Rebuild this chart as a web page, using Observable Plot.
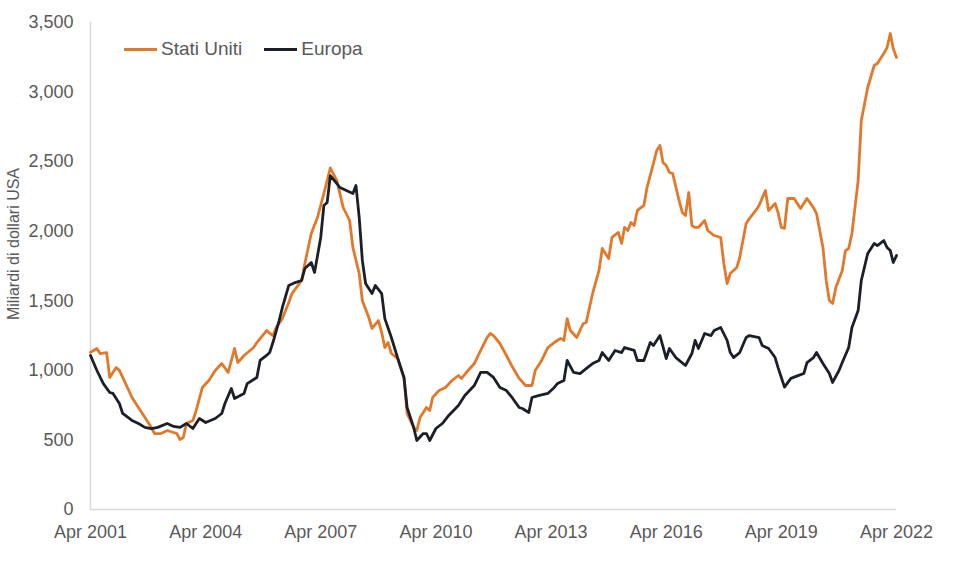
<!DOCTYPE html>
<html>
<head>
<meta charset="utf-8">
<script src="https://cdn.jsdelivr.net/npm/d3@7"></script>
<script src="https://cdn.jsdelivr.net/npm/@observablehq/plot@0.6"></script>
<style>
  html, body { margin: 0; padding: 0; background: #fff; }
  #wrap { position: relative; width: 964px; height: 571px; font-family: "Liberation Sans", Arial, sans-serif; }
  .legend { position: absolute; top: 38px; left: 124px; display: flex; align-items: center; font-size: 19px; color: #595959; }
  .legend .sw { display: inline-block; width: 33px; height: 3px; margin-right: 4px; }
  .legend .item { display: flex; align-items: center; margin-right: 22px; }
</style>
</head>
<body>
<div id="wrap"></div>
<script>
// Stati Uniti (orange), values in billions USD
const usDates = ["2001-04","2001-06","2001-07","2001-09","2001-10","2001-12","2002-01","2002-03","2002-05","2002-07","2002-09","2002-11","2002-12","2003-02","2003-04","2003-07","2003-08","2003-09","2003-10","2003-12","2004-01","2004-03","2004-05","2004-07","2004-09","2004-11","2005-01","2005-02","2005-04","2005-07","2005-08","2005-11","2006-01","2006-02","2006-04","2006-06","2006-07","2006-10","2006-11","2007-01","2007-03","2007-05","2007-07","2007-09","2007-11","2008-01","2008-02","2008-04","2008-05","2008-07","2008-08","2008-10","2008-11","2008-12","2009-01","2009-02","2009-04","2009-06","2009-07","2009-09","2009-10","2009-11","2010-01","2010-02","2010-03","2010-05","2010-07","2010-09","2010-11","2010-12","2011-02","2011-04","2011-06","2011-08","2011-09","2011-10","2011-12","2012-02","2012-04","2012-06","2012-08","2012-10","2012-11","2013-01","2013-03","2013-05","2013-07","2013-08","2013-09","2013-10","2013-12","2014-02","2014-03","2014-05","2014-07","2014-08","2014-10","2014-11","2015-01","2015-02","2015-03","2015-04","2015-05","2015-06","2015-07","2015-09","2015-10","2015-12","2016-01","2016-02","2016-03","2016-04","2016-05","2016-06","2016-08","2016-09","2016-10","2016-11","2016-12","2017-01","2017-02","2017-04","2017-05","2017-07","2017-09","2017-10","2017-11","2017-12","2018-02","2018-03","2018-05","2018-06","2018-08","2018-09","2018-11","2018-12","2019-02","2019-03","2019-04","2019-05","2019-06","2019-08","2019-10","2019-12","2020-02","2020-03","2020-05","2020-06","2020-07","2020-08","2020-09","2020-11","2020-12","2021-01","2021-02","2021-04","2021-05","2021-07","2021-09","2021-10","2021-12","2022-01","2022-02","2022-03","2022-04"];
const usValues = [1130,1157,1121,1128,949,1020,1000,905,805,733,661,590,546,546,568,546,503,517,618,640,711,877,927,999,1049,985,1157,1056,1107,1164,1200,1286,1250,1308,1372,1488,1552,1646,1768,1984,2099,2271,2455,2364,2170,2077,1883,1696,1502,1380,1301,1358,1272,1164,1200,1121,1085,949,690,590,568,661,733,711,805,855,877,927,963,942,999,1049,1143,1236,1265,1250,1193,1107,1020,942,891,891,999,1071,1164,1200,1230,1215,1372,1286,1236,1337,1344,1552,1718,1876,1804,1955,1991,1912,2027,2005,2063,2041,2149,2185,2314,2487,2580,2616,2494,2472,2422,2415,2221,2134,2113,2278,2041,2027,2027,2077,2005,1969,1955,1768,1624,1696,1739,1811,2055,2091,2149,2185,2293,2149,2199,2134,2027,2020,2235,2235,2163,2235,2170,2127,1883,1646,1502,1481,1596,1718,1861,1876,1984,2364,2796,3033,3191,3205,3277,3320,3421,3313,3249];

// Europa (dark navy), values in billions USD
const euDates = ["2001-04","2001-06","2001-08","2001-10","2001-11","2002-01","2002-02","2002-05","2002-07","2002-09","2002-11","2003-01","2003-04","2003-06","2003-08","2003-10","2003-12","2004-02","2004-04","2004-07","2004-09","2004-10","2004-12","2005-01","2005-04","2005-05","2005-08","2005-09","2005-11","2005-12","2006-01","2006-03","2006-04","2006-06","2006-08","2006-10","2006-11","2007-01","2007-02","2007-04","2007-05","2007-06","2007-07","2007-09","2007-10","2007-12","2008-02","2008-03","2008-04","2008-05","2008-06","2008-08","2008-09","2008-11","2008-12","2009-02","2009-04","2009-06","2009-07","2009-09","2009-10","2009-12","2010-01","2010-02","2010-04","2010-06","2010-08","2010-11","2011-01","2011-04","2011-06","2011-08","2011-10","2011-12","2012-02","2012-04","2012-06","2012-07","2012-09","2012-10","2012-12","2013-03","2013-05","2013-06","2013-08","2013-09","2013-11","2014-01","2014-03","2014-05","2014-07","2014-08","2014-10","2014-12","2015-02","2015-03","2015-06","2015-07","2015-09","2015-11","2015-12","2016-02","2016-04","2016-05","2016-07","2016-10","2016-12","2017-01","2017-02","2017-04","2017-06","2017-07","2017-09","2017-11","2017-12","2018-01","2018-03","2018-05","2018-06","2018-09","2018-10","2018-12","2019-02","2019-03","2019-05","2019-07","2019-09","2019-11","2019-12","2020-02","2020-03","2020-05","2020-07","2020-08","2020-10","2020-11","2021-01","2021-02","2021-04","2021-05","2021-07","2021-09","2021-10","2021-12","2022-01","2022-02","2022-03","2022-04"];
const euValues = [1107,999,905,841,834,762,690,640,618,590,582,590,618,597,590,618,582,654,625,654,690,762,870,798,834,905,949,1071,1107,1128,1200,1358,1452,1610,1631,1646,1732,1775,1703,1955,2185,2206,2400,2343,2314,2293,2271,2329,2099,1790,1624,1552,1610,1552,1372,1236,1092,949,733,590,496,546,546,496,582,618,676,747,819,891,985,985,949,877,855,798,733,726,697,805,819,834,877,905,927,1071,985,977,1013,1049,1071,1128,1071,1143,1128,1164,1143,1071,1071,1200,1179,1250,1085,1157,1092,1035,1121,1215,1157,1265,1250,1286,1308,1215,1128,1092,1128,1236,1250,1236,1179,1157,1092,1020,880,942,960,977,1056,1092,1128,1049,977,913,999,1056,1164,1308,1430,1646,1840,1912,1897,1933,1883,1861,1775,1825];

const seriesNames = ["Stati Uniti", "Europa"];
const seriesColors = ["#E2792A", "#1B1F28"];
const yTicks = [0, 500, 1000, 1500, 2000, 2500, 3000, 3500];
const xTickLabels = ["Apr 2001","Apr 2004","Apr 2007","Apr 2010","Apr 2013","Apr 2016","Apr 2019","Apr 2022"];
const yLabel = "Miliardi di dollari USA";

const parse = d3.utcParse("%Y-%m");
const data = [
  ...usDates.map((d, i) => ({date: parse(d), value: usValues[i], series: seriesNames[0]})),
  ...euDates.map((d, i) => ({date: parse(d), value: euValues[i], series: seriesNames[1]}))
];
const xTicks = xTickLabels.map(s => d3.utcParse("%b %Y")(s));
const fmtTick = d3.utcFormat("%b %Y");

const plot = Plot.plot({
  width: 964,
  height: 571,
  marginLeft: 90,
  marginRight: 68,
  marginTop: 22,
  marginBottom: 62,
  style: {fontFamily: "'Liberation Sans', Arial, sans-serif", fontSize: "18px", color: "#595959", background: "#fff"},
  x: {type: "utc", domain: [xTicks[0], xTicks[xTicks.length - 1]]},
  y: {domain: [0, 3500]},
  color: {domain: seriesNames, range: seriesColors},
  marks: [
    Plot.ruleY([0], {stroke: "#d9d9d9", strokeWidth: 1.5, x1: xTicks[0], x2: xTicks[xTicks.length - 1]}),
    Plot.ruleX([xTicks[0]], {stroke: "#d9d9d9", strokeWidth: 1.5, y1: 0, y2: 3500}),
    Plot.axisY({ticks: yTicks, tickSize: 0, tickPadding: 17, tickFormat: d3.format(","), label: null, fill: "#595959"}),
    Plot.axisX({ticks: xTicks, tickSize: 0, tickPadding: 16, tickFormat: fmtTick, label: null, fill: "#595959"}),
    Plot.line(data, {x: "date", y: "value", stroke: "series", strokeWidth: 2.8, z: "series", strokeLinejoin: "round"})
  ]
});

const wrap = document.getElementById("wrap");
wrap.appendChild(plot);

// rotated y-axis label
d3.select(plot).append("text")
  .attr("transform", "translate(19,244) rotate(-90)")
  .attr("text-anchor", "middle")
  .attr("fill", "#595959")
  .style("font-size", "16px")
  .text(yLabel);

// legend
const legend = document.createElement("div");
legend.className = "legend";
seriesNames.forEach((n, i) => {
  const it = document.createElement("div");
  it.className = "item";
  it.innerHTML = `<span class="sw" style="background:${seriesColors[i]}"></span><span>${n}</span>`;
  legend.appendChild(it);
});
wrap.appendChild(legend);
</script>
</body>
</html>
